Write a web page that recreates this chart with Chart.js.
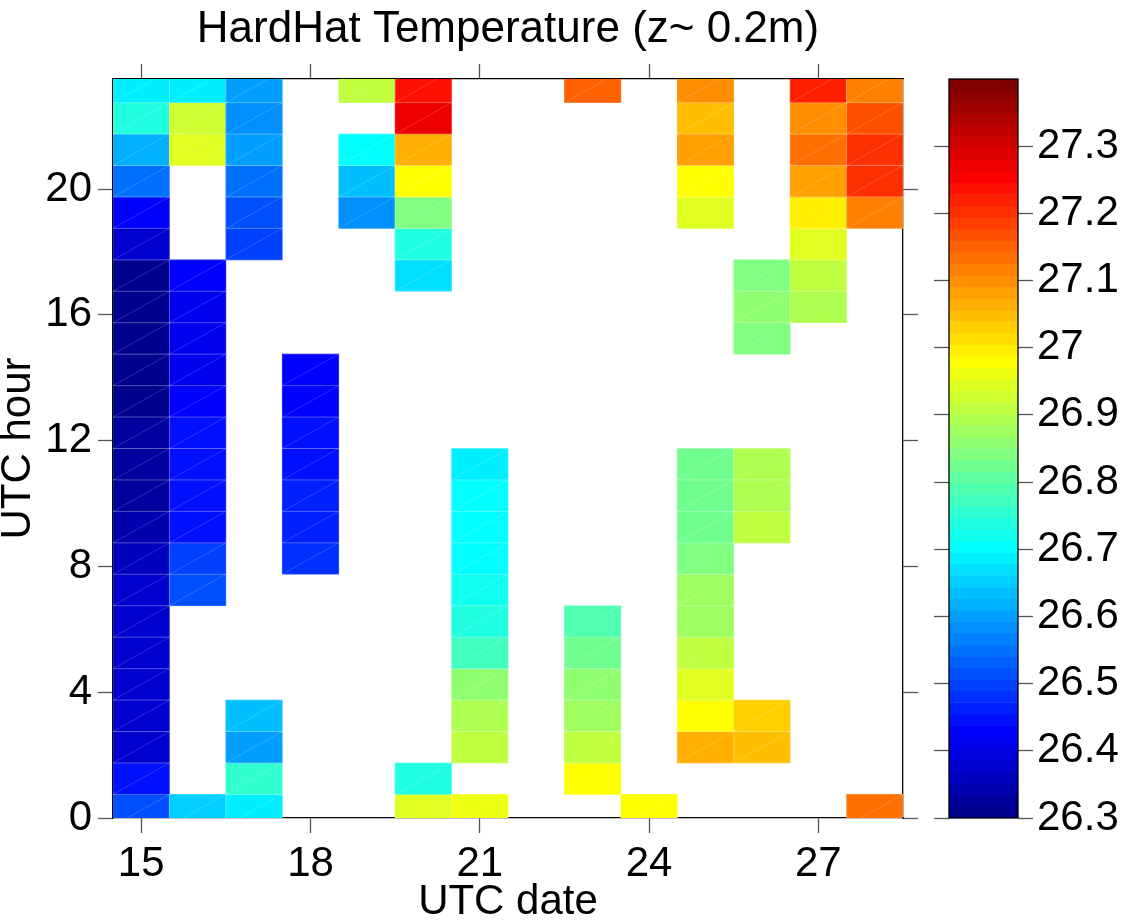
<!DOCTYPE html>
<html>
<head>
<meta charset="utf-8">
<title>HardHat Temperature</title>
<script src="https://cdn.jsdelivr.net/npm/chart.js@4.4.0/dist/chart.umd.min.js"></script>
<style>
  html, body { margin: 0; padding: 0; background: #fff; }
  #wrap { position: relative; width: 1123px; height: 923px; overflow: hidden; }
  #heat { position: absolute; left: 0; top: 0; }
  #cbar { position: absolute; left: 900px; top: 0; }
</style>
</head>
<body>
<div id="wrap">
  <canvas id="heat" width="1123" height="923"></canvas>
  <canvas id="cbar" width="223" height="923"></canvas>
</div>
<script>
// hourly mean temperature (degC) for each UTC date, index = UTC hour 0..23
const _ = null; // no data for that hour

const dates = [15, 16, 17, 18, 19, 20, 21, 22, 23, 24, 25, 26, 27, 28];

const day15 = [26.51, 26.45, 26.38, 26.38, 26.38, 26.38, 26.38, 26.37, 26.36, 26.34, 26.33, 26.33,
               26.32, 26.31, 26.31, 26.31, 26.31, 26.31, 26.38, 26.43, 26.55, 26.62, 26.74, 26.69];
const day16 = [26.65, _, _, _, _, _, _, 26.51, 26.50, 26.45, 26.45, 26.45,
               26.45, 26.43, 26.41, 26.41, 26.41, 26.43, _, _, _, 26.94, 26.93, 26.69];
const day17 = [26.69, 26.76, 26.60, 26.63, _, _, _, _, _, _, _, _,
               _, _, _, _, _, _, 26.50, 26.51, 26.55, 26.60, 26.58, 26.60];
const day18 = [_, _, _, _, _, _, _, _, 26.48, 26.46, 26.46, 26.45,
               26.45, 26.43, 26.43, _, _, _, _, _, _, _, _, _];
const day19 = [_, _, _, _, _, _, _, _, _, _, _, _,
               _, _, _, _, _, _, _, 26.58, 26.63, 26.70, _, 26.91];
const day20 = [26.94, 26.74, _, _, _, _, _, _, _, _, _, _,
               _, _, _, _, _, 26.67, 26.74, 26.84, 26.98, 27.06, 27.27, 27.24];
const day21 = [26.96, _, 26.91, 26.89, 26.86, 26.77, 26.74, 26.72, 26.70, 26.70, 26.70, 26.69,
               _, _, _, _, _, _, _, _, _, _, _, _];
const day22 = [_, _, _, _, _, _, _, _, _, _, _, _,
               _, _, _, _, _, _, _, _, _, _, _, _];
const day23 = [_, 26.98, 26.91, 26.87, 26.86, 26.82, 26.79, _, _, _, _, _,
               _, _, _, _, _, _, _, _, _, _, _, 27.15];
const day24 = [26.98, _, _, _, _, _, _, _, _, _, _, _,
               _, _, _, _, _, _, _, _, _, _, _, _];
const day25 = [_, _, 27.06, 26.98, 26.94, 26.91, 26.88, 26.88, 26.84, 26.82, 26.82, 26.82,
               _, _, _, _, _, _, _, 26.94, 26.98, 27.08, 27.05, 27.10];
const day26 = [_, _, 27.05, 27.03, _, _, _, _, _, 26.91, 26.89, 26.89,
               _, _, _, 26.84, 26.85, 26.84, _, _, _, _, _, _];
const day27 = [_, _, _, _, _, _, _, _, _, _, _, _,
               _, _, _, _, 26.89, 26.91, 26.94, 27.00, 27.08, 27.13, 27.10, 27.22];
const day28 = [27.13, _, _, _, _, _, _, _, _, _, _, _,
               _, _, _, _, _, _, _, 27.12, 27.20, 27.20, 27.17, 27.12];

const dayTemps = [day15, day16, day17, day18, day19, day20, day21,
                  day22, day23, day24, day25, day26, day27, day28];

const xTicks = [15, 18, 21, 24, 27];
const yTicks = [0, 4, 8, 12, 16, 20];
const cbarTicks = [26.3, 26.4, 26.5, 26.6, 26.7, 26.8, 26.9, 27.0, 27.1, 27.2, 27.3];

// colour limits and number of colormap levels
const cmin = 26.3, cmax = 27.4, nLevels = 64;

// MATLAB style jet colormap
function jet(m) {
  const n = Math.ceil(m / 4);
  const u = [];
  for (let i = 1; i <= n; i++) u.push(i / n);
  for (let i = 1; i < n; i++) u.push(1);
  for (let i = n; i >= 1; i--) u.push(i / n);
  const off = Math.ceil(n / 2) - (m % 4 === 1 ? 1 : 0);
  const r = new Array(m).fill(0), g = new Array(m).fill(0), b = new Array(m).fill(0);
  u.forEach((val, k) => {
    const gi = off + k, ri = gi + n, bi = gi - n;
    if (gi < m) g[gi] = val;
    if (ri < m) r[ri] = val;
    if (bi >= 0) b[bi] = val;
  });
  return r.map((rv, i) =>
    `rgb(${Math.round(rv * 255)},${Math.round(g[i] * 255)},${Math.round(b[i] * 255)})`);
}
const cmap = jet(nLevels);

function colorFor(t) {
  let k = Math.floor((t - cmin) / (cmax - cmin) * nLevels);
  k = Math.min(nLevels - 1, Math.max(0, k));
  return cmap[k];
}

// one floating bar per hourly cell; the hour cell runs from hh-0.25 to hh+0.75
const cells = [];
dayTemps.forEach((temps, i) => {
  temps.forEach((t, h) => {
    if (t === null) return;
    cells.push({ x: dates[i], y: [h - 0.25, h + 0.75], t: t });
  });
});

Chart.defaults.font.family = "'Liberation Sans', Arial, Helvetica, sans-serif";
Chart.defaults.color = '#000';

const tickGrid = {
  drawOnChartArea: false,
  drawTicks: true,
  tickLength: 15,
  tickColor: '#555',
  tickWidth: 1.3
};
const frame = { display: true, color: '#000', width: 1.3 };

// faint pcolor-style cell edges and diagonal
const cellEdges = {
  id: 'cellEdges',
  afterDatasetsDraw(chart) {
    const { ctx, chartArea: a } = chart;
    ctx.save();
    ctx.beginPath();
    ctx.rect(a.left, a.top, a.right - a.left, a.bottom - a.top);
    ctx.clip();
    ctx.strokeStyle = 'rgba(255,255,255,0.22)';
    ctx.lineWidth = 0.8;
    chart.getDatasetMeta(0).data.forEach(bar => {
      const { x, y, base, width } = bar.getProps(['x', 'y', 'base', 'width'], true);
      const l = x - width / 2, r = x + width / 2;
      ctx.beginPath();
      ctx.rect(l, y, r - l, base - y);
      ctx.moveTo(l, base);
      ctx.lineTo(r, y);
      ctx.stroke();
    });
    ctx.restore();
  }
};

new Chart(document.getElementById('heat'), {
  type: 'bar',
  data: {
    datasets: [{
      data: cells,
      backgroundColor: ctx => (ctx.raw ? colorFor(ctx.raw.t) : 'transparent'),
      borderWidth: 0,
      barPercentage: 1,
      categoryPercentage: 1,
      grouped: false
    }]
  },
  options: {
    responsive: false,
    animation: false,
    events: [],
    layout: { padding: { left: 0, right: 205, top: 0, bottom: 0 } },
    plugins: {
      legend: { display: false },
      tooltip: { enabled: false },
      title: {
        display: true,
        fullSize: false,
        text: 'HardHat Temperature (z~ 0.2m)',
        color: '#000',
        font: { size: 44, weight: 'normal', lineHeight: 1 },
        padding: { top: 8, bottom: 12 }
      }
    },
    scales: {
      x: {
        type: 'linear', position: 'bottom', min: 14.5, max: 28.5, offset: false,
        afterBuildTicks: s => { s.ticks = xTicks.map(v => ({ value: v })); },
        afterFit: s => { s.height = 105; },
        grid: Object.assign({ offset: false }, tickGrid),
        border: frame,
        ticks: { font: { size: 42 }, color: '#000', padding: 6, maxRotation: 0, autoSkip: false },
        title: { display: true, text: 'UTC date', color: '#000', font: { size: 42, lineHeight: 1 }, padding: 0 }
      },
      xTop: {
        type: 'linear', position: 'top', min: 14.5, max: 28.5, offset: false,
        afterBuildTicks: s => { s.ticks = xTicks.map(v => ({ value: v })); },
        afterFit: s => { s.height = 15; },
        grid: Object.assign({ offset: false }, tickGrid),
        border: frame,
        ticks: { display: false }
      },
      y: {
        type: 'linear', position: 'left', min: 0, max: 23.5,
        afterBuildTicks: s => { s.ticks = yTicks.map(v => ({ value: v })); },
        afterFit: s => { s.width = 113; },
        grid: tickGrid,
        border: frame,
        ticks: { font: { size: 42 }, color: '#000', padding: 6, autoSkip: false },
        title: { display: true, text: 'UTC hour', color: '#000', font: { size: 42, lineHeight: 0.9 }, padding: 0 }
      },
      yRight: {
        type: 'linear', position: 'right', min: 0, max: 23.5,
        afterBuildTicks: s => { s.ticks = yTicks.map(v => ({ value: v })); },
        afterFit: s => { s.width = 15; },
        grid: tickGrid,
        border: frame,
        ticks: { display: false }
      }
    }
  },
  plugins: [cellEdges]
});

// colour bar: one band per colormap level
const bandStep = (cmax - cmin) / nLevels;
const bands = cmap.map((c, k) => ({ x: 'cb', y: [cmin + k * bandStep, cmin + (k + 1) * bandStep] }));

const cbarFrame = {
  id: 'cbarFrame',
  afterDatasetsDraw(chart) {
    const { ctx, chartArea: a } = chart;
    ctx.save();
    ctx.strokeStyle = '#000';
    ctx.lineWidth = 1.3;
    ctx.strokeRect(a.left, a.top, a.right - a.left, a.bottom - a.top);
    ctx.restore();
  }
};

const fmtTick = v => String(Number(Number(v).toFixed(1)));

new Chart(document.getElementById('cbar'), {
  type: 'bar',
  data: {
    labels: ['cb'],
    datasets: [{
      data: bands,
      backgroundColor: cmap,
      borderWidth: 0,
      barPercentage: 1,
      categoryPercentage: 1,
      grouped: false
    }]
  },
  options: {
    responsive: false,
    animation: false,
    events: [],
    layout: { padding: { left: 0, right: 0, top: 79, bottom: 105 } },
    plugins: { legend: { display: false }, tooltip: { enabled: false } },
    scales: {
      x: { type: 'category', display: false },
      y: {
        type: 'linear', position: 'right', min: cmin, max: cmax,
        afterBuildTicks: s => { s.ticks = cbarTicks.map(v => ({ value: v })); },
        afterFit: s => { s.width = 105; },
        grid: tickGrid,
        border: { display: false },
        ticks: { font: { size: 42 }, color: '#000', padding: 4, autoSkip: false, callback: fmtTick }
      },
      yLeft: {
        type: 'linear', position: 'left', min: cmin, max: cmax,
        afterBuildTicks: s => { s.ticks = cbarTicks.map(v => ({ value: v })); },
        afterFit: s => { s.width = 49; },
        grid: tickGrid,
        border: { display: false },
        ticks: { display: false }
      }
    }
  },
  plugins: [cbarFrame]
});
</script>
</body>
</html>
